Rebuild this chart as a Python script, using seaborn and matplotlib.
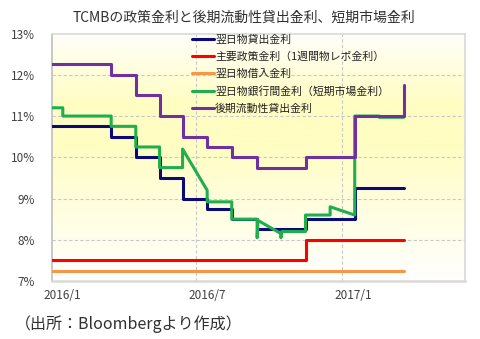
import numpy as np
import pandas as pd
import matplotlib
matplotlib.use("Agg")
import matplotlib.pyplot as plt
from matplotlib.colors import LinearSegmentedColormap
from matplotlib.transforms import ScaledTranslation
import seaborn as sns

# --- series data (rates in %) ---
# step series: change dates and the rate valid from that date
lend_dates = ["2016-01-01", "2016-03-16", "2016-04-16", "2016-05-16", "2016-06-14",
              "2016-07-15", "2016-08-15", "2016-09-16", "2016-11-16", "2017-01-17",
              "2017-03-20"]
lend_rates = [10.75, 10.5, 10.0, 9.5, 9.0, 8.75, 8.5, 8.25, 8.5, 9.25, 9.25]

repo_dates = ["2016-01-01", "2016-11-16", "2017-03-20"]
repo_rates = [7.5, 8.0, 8.0]

borrow_dates = ["2016-01-01", "2017-03-20"]
borrow_rates = [7.25, 7.25]

late_dates = ["2016-01-01", "2016-03-16", "2016-04-16", "2016-05-16", "2016-06-14",
              "2016-07-15", "2016-08-15", "2016-09-16", "2016-11-16", "2017-01-17",
              "2017-03-20"]
late_rates = [12.25, 12.0, 11.5, 11.0, 10.5, 10.25, 10.0, 9.75, 10.0, 11.0, 11.75]

# interbank overnight rate: line vertices in drawing order
bank_dates = ["2016-01-01", "2016-01-15", "2016-01-15", "2016-03-16", "2016-03-16",
              "2016-04-16", "2016-04-16", "2016-05-16", "2016-05-16", "2016-06-14",
              "2016-06-14", "2016-07-15", "2016-07-15", "2016-08-15", "2016-08-15",
              "2016-09-16", "2016-09-16", "2016-09-17", "2016-10-16", "2016-10-16",
              "2016-10-17", "2016-11-16", "2016-11-16", "2016-12-17", "2016-12-17",
              "2017-01-17", "2017-01-17", "2017-02-17", "2017-02-17", "2017-03-20"]
bank_rates = [11.2, 11.2, 11.0, 11.0, 10.75, 10.75, 10.25, 10.25, 9.75, 9.75,
              10.2, 9.2, 8.92, 8.92, 8.5, 8.5, 8.05, 8.47, 8.15, 8.05,
              8.2, 8.2, 8.6, 8.6, 8.8, 8.6, 11.0, 11.0, 10.97, 10.97]

labels = ["翌日物貸出金利", "主要政策金利（1週間物レポ金利）", "翌日物借入金利",
          "翌日物銀行間金利（短期市場金利）", "後期流動性貸出金利"]
colors = ["#0A0A78", "#FF0000", "#F79646", "#1EAE50", "#7030A0"]

x_ticks = ["2016-01-01", "2016-07-01", "2017-01-01"]
x_tick_labels = ["2016/1", "2016/7", "2017/1"]
y_ticks = [7, 8, 9, 10, 11, 12, 13]

title = "TCMBの政策金利と後期流動性貸出金利、短期市場金利"
source = "（出所：Bloombergより作成）"

# --- styling ---
sns.set_style("white")
plt.rcParams["font.family"] = ["Noto Sans CJK JP", "DejaVu Sans"]
text_color = "#404040"

fig = plt.figure(figsize=(4.8, 3.39), dpi=100)
ax = fig.add_axes([0.1077, 0.171, 0.861, 0.730])

# soft vertical gradient behind the lines
grad_cmap = LinearSegmentedColormap.from_list(
    "bg", [(0.0, "#FFFFFF"), (0.55, "#FFFDC2"), (0.72, "#FFFDC2"), (1.0, "#FFFFFA")])
grad = np.linspace(0, 1, 256).reshape(-1, 1)
ax.imshow(grad, cmap=grad_cmap, aspect="auto", origin="lower",
          extent=[0, 1, 0, 1], transform=ax.transAxes, zorder=0)

lw = 2.2
step_series = [
    (lend_dates, lend_rates, labels[0], colors[0]),
    (repo_dates, repo_rates, labels[1], colors[1]),
    (borrow_dates, borrow_rates, labels[2], colors[2]),
]
for d, v, lab, c in step_series:
    sns.lineplot(x=pd.to_datetime(d), y=v, ax=ax, color=c, lw=lw, label=lab,
                 drawstyle="steps-post", estimator=None, sort=False, zorder=3)

sns.lineplot(x=pd.to_datetime(bank_dates), y=bank_rates, ax=ax, color=colors[3],
             lw=lw, label=labels[3], estimator=None, sort=False, zorder=3)
sns.lineplot(x=pd.to_datetime(late_dates), y=late_rates, ax=ax, color=colors[4],
             lw=lw, label=labels[4], drawstyle="steps-post", estimator=None,
             sort=False, zorder=3)

ax.set_ylim(7, 13)
ax.set_xlim(pd.Timestamp("2016-01-01"), pd.Timestamp("2017-06-05"))
ax.set_yticks(y_ticks)
ax.set_yticklabels([f"{t}%" for t in y_ticks])
ax.set_xticks(pd.to_datetime(x_ticks))
ax.set_xticklabels(x_tick_labels)
ax.set_xlabel("")
ax.set_ylabel("")

ax.tick_params(axis="both", length=0, labelsize=8.5, colors=text_color)
ax.tick_params(axis="y", pad=12)
ax.tick_params(axis="x", pad=6)
for lbl in ax.get_xticklabels():
    lbl.set_horizontalalignment("left")
    lbl.set_transform(lbl.get_transform() + ScaledTranslation(-8 / 100, 0, fig.dpi_scale_trans))

# dashed grid
for y in y_ticks[1:-1]:
    ax.axhline(y, color="#C8C8C8", lw=0.8, ls=(0, (3, 2)), zorder=1)
for x in pd.to_datetime(x_ticks[1:]):
    ax.axvline(x, color="#C8C8C8", lw=0.8, ls=(0, (3, 2)), zorder=1)

for side, sp in ax.spines.items():
    sp.set_visible(True)
    sp.set_color("#D9D9D9")
    sp.set_linewidth(1.2)
ax.spines["left"].set_color("#BFBFBF")
ax.spines["bottom"].set_linewidth(1.8)

leg = ax.legend(loc="upper left", bbox_to_anchor=(0.338, 1.0), frameon=False,
                fontsize=7.8, handlelength=1.95, handletextpad=0.15,
                labelspacing=0.62, borderaxespad=0, borderpad=0.1)
for t in leg.get_texts():
    t.set_color("#202020")

fig.text(0.508, 0.948, title, ha="center", va="center", fontsize=10, color="#303030")
fig.text(0.03, 0.045, source, ha="left", va="center", fontsize=11.5, color="#303030")

fig.savefig("out.png", dpi=100)
